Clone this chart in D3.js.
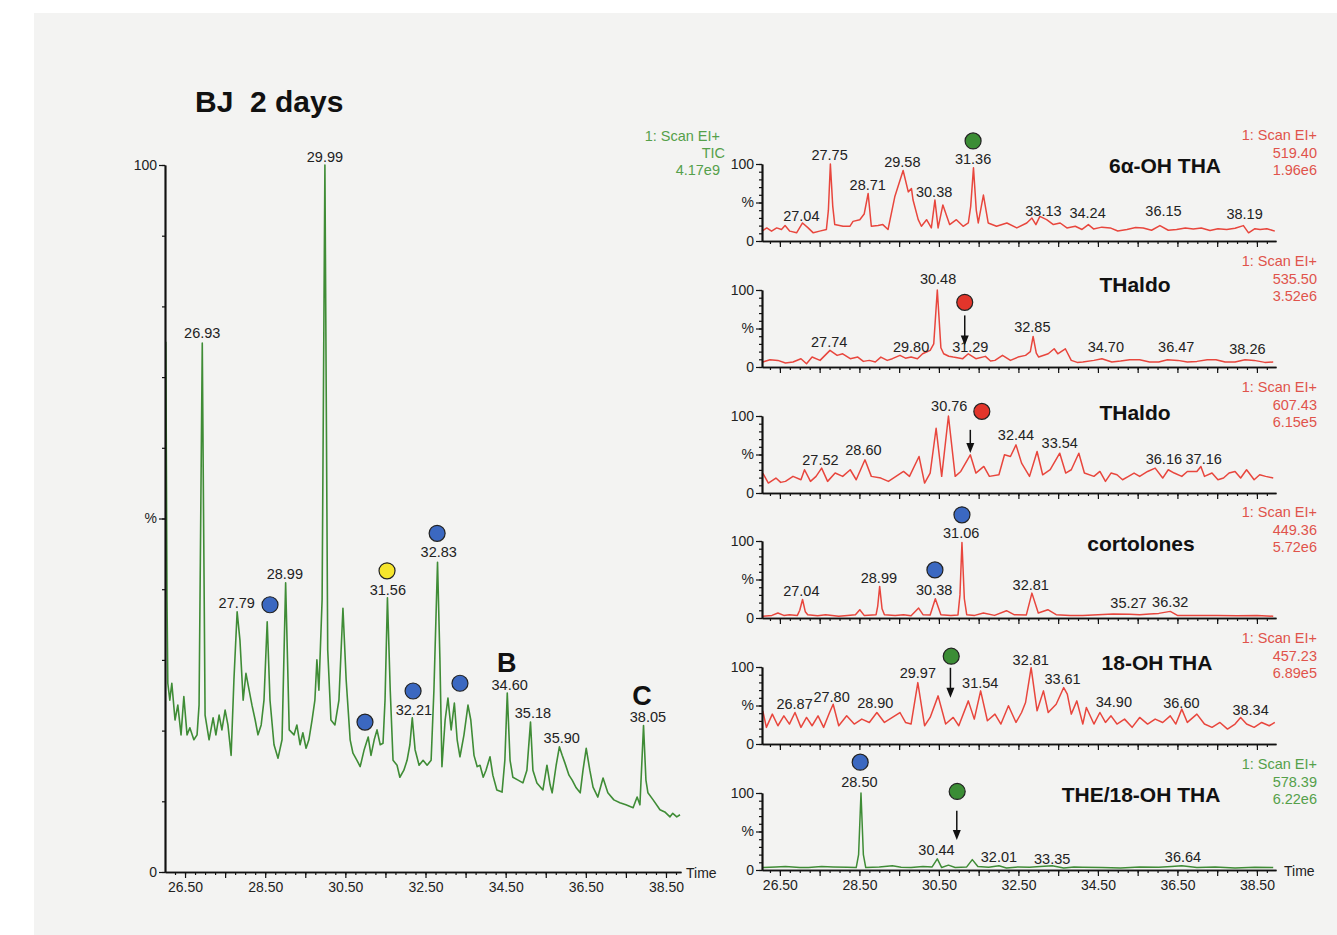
<!DOCTYPE html>
<html>
<head>
<meta charset="utf-8">
<script src="https://cdn.jsdelivr.net/npm/d3@7"></script>
<style>
  body { margin: 0; background: #fff; }
  svg { display: block; font-family: "Liberation Sans", Arial, sans-serif; }
  .axis text { font-size: 14px; fill: #222; font-family: "Liberation Sans", Arial, sans-serif; }
  .axis .domain { stroke: #111; stroke-width: 1.7; }
  .axis line { stroke: #111; stroke-width: 1.2; }
  .peak { font-size: 14.5px; fill: #222; text-anchor: middle; }
</style>
</head>
<body>
<div id="holder"></div>
<script>
// ---- left TIC chromatogram: [time (min), %]
const ticTrace = [
  [26.02, 75], [26.05, 38.5], [26.07, 26.7], [26.12, 24.3], [26.17, 26.7], [26.25, 21.5], [26.32, 23.6],
  [26.40, 19.4], [26.47, 24.8], [26.55, 19.4], [26.62, 20.4], [26.72, 18.7], [26.80, 19.4], [26.85, 23.6],
  [26.93, 74.8], [27.00, 22.2], [27.10, 18.7], [27.20, 21.8], [27.27, 19.4], [27.35, 22.2], [27.42, 20.1],
  [27.50, 22.9], [27.57, 20.8], [27.65, 16.5], [27.72, 27.2], [27.80, 36.8], [27.87, 32.8], [27.95, 24.3],
  [28.02, 28.1], [28.10, 25.7], [28.17, 23.6], [28.25, 21.5], [28.32, 19.4], [28.40, 20.8], [28.47, 24.3],
  [28.55, 35.4], [28.62, 24.3], [28.72, 18.0], [28.82, 16.1], [28.92, 18.7], [29.01, 40.9], [29.10, 20.1],
  [29.22, 19.4], [29.29, 20.8], [29.37, 18.0], [29.44, 19.7], [29.52, 17.5], [29.59, 18.7], [29.67, 21.5],
  [29.74, 24.3], [29.79, 30.0], [29.84, 25.7], [29.92, 38.5], [29.99, 100], [30.06, 31.4], [30.14, 21.5],
  [30.24, 20.8], [30.34, 24.3], [30.44, 37.3], [30.52, 27.2], [30.62, 18.7], [30.69, 16.8], [30.79, 15.8],
  [30.87, 14.9], [30.97, 17.3], [31.07, 19.1], [31.14, 16.5], [31.22, 18.7], [31.29, 20.1], [31.37, 18.0],
  [31.44, 18.2], [31.49, 24.3], [31.55, 38.8], [31.62, 25.7], [31.69, 15.8], [31.79, 15.1], [31.86, 13.4],
  [31.96, 14.4], [32.04, 15.8], [32.11, 18.0], [32.17, 21.8], [32.24, 17.3], [32.34, 15.1], [32.44, 15.8],
  [32.54, 15.1], [32.64, 15.8], [32.71, 25.7], [32.80, 43.8], [32.86, 30.0], [32.91, 14.9], [32.99, 21.5],
  [33.06, 24.6], [33.14, 20.1], [33.22, 23.9], [33.29, 18.7], [33.36, 16.3], [33.46, 19.4], [33.56, 23.6],
  [33.63, 21.5], [33.71, 16.5], [33.79, 14.9], [33.86, 15.1], [33.94, 13.4], [34.01, 14.4], [34.11, 16.3],
  [34.18, 13.7], [34.28, 11.6], [34.41, 11.3], [34.48, 15.8], [34.54, 25.3], [34.61, 15.8], [34.68, 13.4],
  [34.81, 13.0], [34.93, 12.6], [35.03, 14.4], [35.12, 21.2], [35.18, 14.4], [35.28, 12.6], [35.43, 11.6],
  [35.53, 15.1], [35.61, 12.3], [35.66, 11.2], [35.76, 15.1], [35.84, 17.7], [35.91, 16.5], [35.98, 15.4],
  [36.08, 13.7], [36.16, 13.0], [36.26, 11.9], [36.36, 11.2], [36.43, 14.4], [36.51, 17.5], [36.60, 14.4],
  [36.68, 12.0], [36.80, 10.6], [36.93, 13.3], [37.05, 11.2], [37.20, 10.2], [37.35, 9.8], [37.50, 9.5],
  [37.68, 9.1], [37.78, 10.6], [37.85, 9.5], [37.94, 20.7], [38.00, 13.0], [38.05, 11.2], [38.18, 10.2],
  [38.35, 8.8], [38.47, 8.5], [38.60, 7.8], [38.67, 8.3], [38.77, 7.8], [38.85, 8.1]
];
// [label, % height of label baseline]
const ticLabels = [
  ["26.93", 75.5], ["27.79", 37.3], ["28.99", 41.4], ["29.99", 100.4], ["31.56", 39.2], ["32.21", 22.2],
  ["32.83", 44.6], ["34.60", 25.7], ["35.18", 21.8], ["35.90", 18.2], ["38.05", 21.2]
];
// [time, %, colour]
const ticMarkers = [
  [28.62, 37.8, "blue"], [31.54, 42.6, "yellow"], [30.99, 21.2, "blue"],
  [32.19, 25.6, "blue"], [32.79, 47.9, "blue"], [33.36, 26.7, "blue"]
];
const ticLetters = [["B", 34.53, 28.3], ["C", 37.90, 23.6]];
const ticHeader = ["1: Scan EI+", "TIC", "4.17e9"];

// ---- right panels: extracted ion chromatograms
const panelTitles = ["6α-OH THA", "THaldo", "THaldo", "cortolones", "18-OH THA", "THE/18-OH THA"];
const panelMass = ["519.40", "535.50", "607.43", "449.36", "457.23", "578.39"];
const panelIntensity = ["1.96e6", "3.52e6", "6.15e5", "5.72e6", "6.89e5", "6.22e6"];
const panelColour = ["red", "red", "red", "red", "red", "green"];

const p1Trace = [
  [26.05, 12.8], [26.17, 17], [26.29, 12.8], [26.42, 17], [26.54, 14.9], [26.63, 20], [26.75, 12.8],
  [26.92, 10.6], [27.07, 23.4], [27.21, 17], [27.34, 10.6], [27.50, 12.8], [27.67, 14.9], [27.72, 40],
  [27.77, 100], [27.83, 45], [27.88, 21.3], [28.09, 19.1], [28.26, 19.1], [28.34, 25.5], [28.51, 27.7],
  [28.62, 35], [28.72, 61.7], [28.80, 19.1], [28.97, 20], [29.09, 21.3], [29.22, 14.9], [29.39, 57.4],
  [29.60, 91.5], [29.73, 63.8], [29.81, 68.1], [29.85, 53.2], [29.98, 27.7], [30.06, 19.1], [30.19, 27.7],
  [30.31, 17], [30.40, 53.2], [30.48, 17], [30.60, 46.8], [30.77, 21.3], [30.94, 27.7], [31.11, 19.1],
  [31.24, 23.4], [31.30, 45], [31.37, 95], [31.44, 40], [31.49, 23.4], [31.62, 59.6], [31.74, 23.4],
  [31.95, 19.1], [32.21, 23.4], [32.46, 17], [32.71, 23.4], [32.84, 29.8], [32.94, 21.3], [33.04, 31.9],
  [33.21, 27.7], [33.38, 21.3], [33.55, 23.4], [33.72, 17], [33.93, 19.1], [34.10, 15], [34.26, 21.3],
  [34.39, 15.7], [34.60, 18], [34.81, 17], [35.00, 13], [35.23, 14.9], [35.45, 17.5], [35.64, 17],
  [35.85, 14], [36.06, 20], [36.27, 14], [36.48, 14.9], [36.70, 17], [36.90, 15.7], [37.10, 17],
  [37.32, 13.6], [37.52, 16], [37.74, 14.9], [37.95, 16.5], [38.16, 20], [38.29, 10.6], [38.45, 16],
  [38.58, 14.9], [38.75, 16], [38.95, 12.8]
];
const p2Trace = [
  [26.07, 6.5], [26.25, 9.5], [26.45, 8.6], [26.64, 5.2], [26.83, 6.5], [27.03, 10.8], [27.17, 4.3],
  [27.31, 12.9], [27.51, 8.6], [27.76, 21.6], [27.94, 15.1], [28.08, 17.2], [28.27, 10.8], [28.46, 12.9],
  [28.60, 7.3], [28.75, 8.6], [28.90, 6.5], [29.04, 12.9], [29.20, 8.6], [29.33, 10.8], [29.52, 15.1],
  [29.66, 11.5], [29.80, 12.9], [29.96, 10.8], [30.09, 17.2], [30.28, 21.6], [30.37, 30], [30.46, 100],
  [30.55, 25], [30.62, 17.2], [30.75, 14], [30.86, 12.9], [31.10, 10.8], [31.24, 17.2], [31.43, 10.8],
  [31.67, 13.8], [31.80, 7.8], [31.91, 8.6], [32.10, 15.1], [32.30, 8.6], [32.49, 12.9], [32.68, 15.1],
  [32.80, 20], [32.87, 39.7], [32.95, 18], [33.01, 12.9], [33.25, 17.2], [33.40, 23.7], [33.49, 17.2],
  [33.68, 23.7], [33.83, 8.6], [33.98, 6.0], [34.12, 6.5], [34.40, 8.6], [34.60, 10.8], [34.85, 6.5],
  [35.07, 7.8], [35.30, 9.5], [35.55, 9.5], [35.80, 6.5], [36.03, 6.5], [36.25, 9.5], [36.51, 8.6],
  [36.75, 6.5], [36.99, 7.3], [37.25, 9.5], [37.47, 9.5], [37.70, 6.5], [37.95, 6.5], [38.20, 9.5],
  [38.43, 8.6], [38.70, 6.0], [38.91, 6.5]
];
const p3Trace = [
  [26.07, 25.9], [26.21, 12.9], [26.40, 19.4], [26.52, 13.8], [26.64, 15.1], [26.83, 21.6], [27.03, 17.2],
  [27.12, 30.2], [27.27, 15.1], [27.41, 21.6], [27.55, 32.3], [27.70, 15.1], [27.89, 25.9], [28.08, 21.6],
  [28.27, 30.2], [28.42, 17.2], [28.64, 43.1], [28.80, 21.6], [29.04, 19.4], [29.23, 15.1], [29.42, 21.6],
  [29.61, 28.0], [29.76, 21.6], [30.00, 47.4], [30.14, 12.9], [30.28, 25.9], [30.43, 84.1], [30.57, 21.6],
  [30.74, 100], [30.91, 21.6], [31.05, 28.0], [31.29, 49.6], [31.43, 25.9], [31.63, 34.5], [31.77, 21.6],
  [32.01, 23.7], [32.15, 49.6], [32.30, 47.4], [32.44, 62.5], [32.58, 38.8], [32.78, 21.6], [32.97, 53.9],
  [33.11, 23.7], [33.30, 30.2], [33.54, 51.7], [33.69, 25.9], [33.83, 30.2], [34.02, 51.7], [34.16, 25.9],
  [34.40, 21.6], [34.55, 28], [34.69, 15.1], [34.83, 25.9], [34.98, 23.7], [35.12, 17.2], [35.27, 21.6],
  [35.41, 25.9], [35.55, 21.6], [35.75, 28], [35.94, 32.3], [36.13, 19.4], [36.27, 30.2], [36.42, 25.9],
  [36.61, 21.6], [36.75, 28], [36.99, 28], [37.09, 34.5], [37.18, 21.6], [37.37, 25.9], [37.52, 17.2],
  [37.66, 19.4], [37.80, 25.9], [37.95, 28], [38.09, 19.4], [38.24, 30.2], [38.43, 17.2], [38.57, 23.7],
  [38.72, 21.6], [38.91, 19.4]
];
const p4Trace = [
  [26.07, 2.2], [26.30, 3.4], [26.45, 6.5], [26.60, 3.4], [26.74, 4.3], [26.94, 3.4], [27.00, 10],
  [27.07, 24.0], [27.14, 8], [27.20, 4.3], [27.45, 2.8], [27.65, 4.3], [27.98, 2.2], [28.20, 3.4],
  [28.40, 4.3], [28.51, 10.8], [28.62, 3.4], [28.92, 4.3], [28.96, 15], [29.01, 41], [29.07, 12],
  [29.13, 4.3], [29.40, 3.4], [29.61, 4.3], [29.80, 2.8], [29.99, 12.9], [30.10, 4.3], [30.28, 4],
  [30.41, 25], [30.55, 4.3], [30.80, 3.4], [30.98, 4], [31.03, 30], [31.08, 98], [31.14, 25],
  [31.20, 4.3], [31.40, 3.4], [31.62, 6.5], [31.90, 3.4], [32.20, 9.5], [32.39, 4.3], [32.70, 4],
  [32.84, 32.3], [33.00, 6.5], [33.24, 10.8], [33.45, 4.3], [33.80, 3.4], [34.12, 3.4], [34.50, 4.3],
  [34.88, 5.2], [35.30, 5], [35.55, 4.3], [35.80, 5.2], [36.03, 6.0], [36.32, 8.6], [36.50, 3.4],
  [37.00, 3.4], [37.50, 3.4], [38.00, 3.0], [38.50, 3.4], [38.91, 2.2]
];
const p5Trace = [
  [26.07, 43.1], [26.16, 21.6], [26.31, 38.8], [26.45, 23.7], [26.60, 36.6], [26.74, 25.9], [26.88, 40.9],
  [27.03, 21.6], [27.17, 34.5], [27.31, 23.7], [27.46, 36.6], [27.60, 21.6], [27.75, 40.9], [27.84, 51.7],
  [27.98, 23.7], [28.18, 36.6], [28.37, 25.9], [28.56, 32.3], [28.75, 28], [28.94, 40.9], [29.13, 28],
  [29.33, 34.5], [29.52, 40.9], [29.66, 28], [29.80, 25.9], [29.97, 79.7], [30.14, 23.7], [30.28, 34.5],
  [30.48, 62.5], [30.67, 25.9], [30.86, 34.5], [31.00, 23.7], [31.24, 56], [31.39, 32.3], [31.55, 69],
  [31.72, 30.2], [31.91, 38.8], [32.06, 25.9], [32.25, 49.6], [32.44, 28], [32.58, 40.9], [32.68, 53.9],
  [32.82, 99.1], [32.97, 43.1], [33.13, 69], [33.25, 40.9], [33.45, 51.7], [33.64, 73.3], [33.73, 64.7],
  [33.83, 38.8], [33.97, 56], [34.12, 25.9], [34.21, 47.4], [34.40, 25.9], [34.55, 40.9], [34.69, 28],
  [34.83, 36.6], [34.98, 25.9], [35.17, 32.3], [35.36, 21.6], [35.55, 34.5], [35.75, 25.9], [35.94, 32.3],
  [36.13, 28], [36.32, 36.6], [36.46, 25.9], [36.61, 45.3], [36.75, 28], [36.99, 38.8], [37.18, 25.9],
  [37.37, 21.6], [37.57, 28], [37.76, 19.4], [37.95, 25.9], [38.09, 34.5], [38.24, 25.9], [38.43, 21.6],
  [38.62, 28], [38.81, 23.7], [38.95, 28]
];
const p6Trace = [
  [26.07, 3.2], [26.40, 4.0], [26.64, 4.5], [27.00, 3.2], [27.22, 3.2], [27.55, 4.5], [27.84, 4.0],
  [28.20, 3.6], [28.42, 3.2], [28.48, 20], [28.54, 100], [28.60, 20], [28.66, 3.2], [29.00, 4.0],
  [29.33, 5.4], [29.55, 3.6], [29.80, 3.2], [30.10, 4.5], [30.33, 4.0], [30.46, 14.4], [30.57, 3.2],
  [30.74, 6.3], [30.91, 3.2], [31.20, 4.0], [31.34, 13.5], [31.48, 4.5], [31.75, 3.6], [32.01, 5.4],
  [32.20, 2.7], [32.50, 4.0], [32.78, 3.6], [33.05, 4.5], [33.35, 5.4], [33.64, 2.7], [33.90, 4.0],
  [34.12, 3.6], [34.60, 3.2], [35.07, 2.7], [35.55, 4.0], [36.03, 3.6], [36.35, 4.5], [36.61, 5.4],
  [36.99, 3.2], [37.45, 4.0], [37.95, 2.7], [38.45, 3.6], [38.91, 3.2]
];
const panelTraces = [p1Trace, p2Trace, p3Trace, p4Trace, p5Trace, p6Trace];

const panelLabels = [
  [["27.04", 26], ["27.75", 105], ["28.71", 66], ["29.58", 96], ["30.38", 57], ["31.36", 100],
   ["33.13", 33], ["34.24", 30], ["36.15", 32], ["38.19", 28.5]],
  [["27.74", 26], ["29.80", 19], ["30.48", 108], ["31.29", 19], ["32.85", 45], ["34.70", 19],
   ["36.47", 19], ["38.26", 17]],
  [["27.52", 37], ["28.60", 50], ["30.76", 106], ["32.44", 69], ["33.54", 58], ["36.16", 38], ["37.16", 38]],
  [["27.04", 28], ["28.99", 45], ["30.38", 30], ["31.06", 104], ["32.81", 37], ["35.27", 13], ["36.32", 14]],
  [["26.87", 45], ["27.80", 55], ["28.90", 47], ["29.97", 86], ["31.54", 73], ["32.81", 103], ["33.61", 78],
   ["34.90", 48], ["36.60", 47], ["38.34", 38]],
  [["28.50", 108], ["30.44", 19], ["32.01", 10], ["33.35", 8], ["36.64", 10]]
];
const panelMarkers = [
  [[31.36, 130, "green"]],
  [[31.15, 84, "red"]],
  [[31.58, 106, "red"]],
  [[31.08, 134, "blue"], [30.40, 62.5, "blue"]],
  [[30.81, 114, "green"]],
  [[28.52, 140, "blue"], [30.96, 102, "green"]]
];
// [time, from %, to %]
const panelArrows = [
  [],
  [[31.15, 67, 28]],
  [[31.29, 82, 52]],
  [],
  [[30.79, 99, 60]],
  [[30.95, 77, 39]]
];

// ---- drawing
const W = 1337, H = 935;
const dotFill = { blue: "#3b68c1", green: "#3b8d35", red: "#e2352b", yellow: "#f6e52c" };
const traceColour = { green: "#3f8c36", red: "#e8463d" };
const textColour = { green: "#55a04a", red: "#e0534b" };

const svg = d3.select("#holder").append("svg").attr("width", W).attr("height", H);
svg.append("rect").attr("x", 34).attr("y", 13).attr("width", W - 34).attr("height", H - 13).attr("fill", "#f3f3f2");

function drawAxes(g, x, y, showLabels) {
  const [t0, t1] = x.domain();
  const minor = d3.range(26.25, t1, 0.25).filter(t => t > t0);
  const major = d3.range(26.5, t1, 1);
  g.append("g").attr("class", "axis").attr("transform", `translate(0,${y(0)})`)
    .call(d3.axisBottom(x).tickValues(minor).tickSize(3).tickSizeOuter(0).tickFormat(""));
  g.append("g").attr("class", "axis").attr("transform", `translate(0,${y(0)})`)
    .call(d3.axisBottom(x).tickValues(major).tickSize(6).tickSizeOuter(0).tickPadding(4)
      .tickFormat(t => showLabels && Math.round((t - 26.5) * 10) % 20 === 0 ? t.toFixed(2) : ""));
  g.append("g").attr("class", "axis").attr("transform", `translate(${x.range()[0]},0)`)
    .call(d3.axisLeft(y).tickValues(d3.range(0, 101, 10)).tickSize(3).tickSizeOuter(0).tickFormat(""));
  g.append("g").attr("class", "axis").attr("transform", `translate(${x.range()[0]},0)`)
    .call(d3.axisLeft(y).tickValues([0, 50, 100]).tickSize(6).tickSizeOuter(0).tickPadding(2)
      .tickFormat(v => v === 50 ? "%" : v));
}

function drawDots(g, x, y, markers) {
  g.selectAll("circle.dot").data(markers).enter().append("circle")
    .attr("class", "dot")
    .attr("cx", d => x(d[0])).attr("cy", d => y(d[1])).attr("r", 8)
    .attr("fill", d => dotFill[d[2]]).attr("stroke", "#222").attr("stroke-width", 1.2);
}

function drawPeakLabels(g, x, y, labels) {
  g.selectAll("text.peak").data(labels).enter().append("text")
    .attr("class", "peak")
    .attr("x", d => x(+d[0])).attr("y", d => y(d[1]))
    .text(d => d[0]);
}

// left chart
const left = svg.append("g");
const lx = d3.scaleLinear().domain([26.0, 38.875]).range([165, 681]);
const ly = d3.scaleLinear().domain([0, 100]).range([872, 165]);

left.append("text").attr("x", 195).attr("y", 112).attr("font-size", 30).attr("font-weight", "bold")
  .attr("fill", "#111").style("white-space", "pre").text("BJ  2 days");

left.append("path").datum(ticTrace)
  .attr("fill", "none").attr("stroke", traceColour.green).attr("stroke-width", 1.6).attr("stroke-linejoin", "round")
  .attr("d", d3.line().x(d => lx(d[0])).y(d => ly(d[1])));
drawAxes(left, lx, ly, true);
drawPeakLabels(left, lx, ly, ticLabels);
drawDots(left, lx, ly, ticMarkers);
left.selectAll("text.letter").data(ticLetters).enter().append("text")
  .attr("x", d => lx(d[1])).attr("y", d => ly(d[2]))
  .attr("text-anchor", "middle").attr("font-size", 27).attr("font-weight", "bold").attr("fill", "#111")
  .text(d => d[0]);
left.append("text").attr("x", 686).attr("y", 878).attr("font-size", 14).attr("fill", "#222").text("Time");

const headerX = [720, 725, 720];
const headerY = [141, 158, 175];
ticHeader.forEach((t, i) => left.append("text").attr("x", headerX[i]).attr("y", headerY[i])
  .attr("text-anchor", "end").attr("font-size", 14.5).attr("fill", textColour.green).text(t));

// right panels
const rx = d3.scaleLinear().domain([26.05, 38.98]).range([762, 1276]);
const panelTop = [164, 290, 416, 541, 667, 793];
const titleX = [1165, 1135, 1135, 1141, 1157, 1141];
const titleDy = [9, 2, 4, 10, 3, 9];

panelTitles.forEach((title, i) => {
  const g = svg.append("g");
  const y = d3.scaleLinear().domain([0, 100]).range([panelTop[i] + 77, panelTop[i]]);
  const col = panelColour[i];
  g.append("path").datum(panelTraces[i])
    .attr("fill", "none").attr("stroke", traceColour[col]).attr("stroke-width", 1.5).attr("stroke-linejoin", "round")
    .attr("d", d3.line().x(d => rx(d[0])).y(d => y(d[1])));
  drawAxes(g, rx, y, i === panelTitles.length - 1);
  drawPeakLabels(g, rx, y, panelLabels[i]);

  panelArrows[i].forEach(a => {
    const ax = rx(a[0]), y1 = y(a[1]), y2 = y(a[2]);
    g.append("line").attr("x1", ax).attr("x2", ax).attr("y1", y1).attr("y2", y2 - 8)
      .attr("stroke", "#111").attr("stroke-width", 1.5);
    g.append("path").attr("d", `M${ax - 4},${y2 - 10}L${ax + 4},${y2 - 10}L${ax},${y2}Z`).attr("fill", "#111");
  });
  drawDots(g, rx, y, panelMarkers[i]);

  g.append("text").attr("x", titleX[i]).attr("y", panelTop[i] + titleDy[i])
    .attr("text-anchor", "middle").attr("font-size", 21).attr("font-weight", "bold").attr("fill", "#111")
    .text(title);
  [["1: Scan EI+", -24], [panelMass[i], -6], [panelIntensity[i], 11]].forEach(([t, dy]) =>
    g.append("text").attr("x", 1317).attr("y", panelTop[i] + dy).attr("text-anchor", "end")
      .attr("font-size", 14.5).attr("fill", textColour[col]).text(t));
});
svg.append("text").attr("x", 1284).attr("y", 876).attr("font-size", 14).attr("fill", "#222").text("Time");
</script>
</body>
</html>
